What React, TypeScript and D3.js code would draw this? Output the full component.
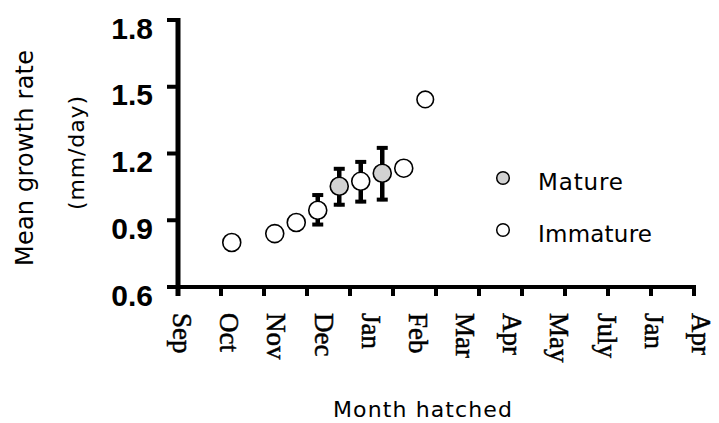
import React from "react";
import * as d3 from "d3";

const monthLabels = ["Sep", "Oct", "Nov", "Dec", "Jan", "Feb", "Mar", "Apr", "May", "July", "Jan", "Apr"];
const tickSlots = [0, 1, 2, 3, 4, 5, 6, 7, 8, 9, 10, 11, 12];
const yTicks = [0.6, 0.9, 1.2, 1.5, 1.8];

const hatchMonth = [1.25, 2.25, 2.75, 3.25, 3.75, 4.25, 4.75, 5.25, 5.75];
const growthRate = [0.8, 0.84, 0.89, 0.945, 1.053, 1.075, 1.111, 1.134, 1.443];
const errUpper: (number | null)[] = [null, null, null, 1.02, 1.138, 1.169, 1.232, null, null];
const errLower: (number | null)[] = [null, null, null, 0.874, 0.963, 0.977, 0.986, null, null];
const maturity = ["Immature", "Immature", "Immature", "Immature", "Mature", "Immature", "Mature", "Immature", "Immature"];

const legendItems = ["Mature", "Immature"];

const W = 719;
const H = 423;
const MATURE_FILL = "#d2d2d2";

export default function App() {
  const x = d3.scaleLinear().domain([0, 12]).range([178, 694]);
  const y = d3.scaleLinear().domain([0.6, 1.8]).range([287, 20]);
  const labelX = d3
    .scalePoint<number>()
    .domain(monthLabels.map((_, i) => i))
    .range([182, 701]);
  const fmt = d3.format(".1f");
  const legendY = d3.scalePoint<string>().domain(legendItems).range([178, 230]);

  const sans = "'DejaVu Sans', sans-serif";

  return (
    <svg
      width={W}
      height={H}
      viewBox={`0 0 ${W} ${H}`}
      style={{ position: "absolute", left: 0, top: 0, background: "#fff" }}
    >
      <rect x={0} y={0} width={W} height={H} fill="#fff" />
      {/* Y axis */}
      <line x1={x(0)} x2={x(0)} y1={y(1.8) - 2} y2={296} stroke="#000" strokeWidth={5} />
      {yTicks.map((t) => (
        <g key={t}>
          <line x1={167} x2={x(0)} y1={y(t)} y2={y(t)} stroke="#000" strokeWidth={4} />
          <text
            x={153}
            y={y(t) + 18.5}
            textAnchor="end"
            fontFamily="'Liberation Sans', Arial, sans-serif"
            fontWeight="bold"
            fontSize={30}
            fill="#000"
          >
            {fmt(t)}
          </text>
        </g>
      ))}
      {/* X axis */}
      <line x1={x(0) - 3} x2={x(12) + 2} y1={y(0.6)} y2={y(0.6)} stroke="#000" strokeWidth={4} />
      {tickSlots.map((s) => (
        <line key={s} x1={x(s)} x2={x(s)} y1={y(0.6)} y2={296} stroke="#000" strokeWidth={4} />
      ))}
      {monthLabels.map((m, i) => (
        <text
          key={i}
          transform={`translate(${(labelX(i) as number) - 9},313) rotate(90)`}
          fontFamily="'Liberation Serif', 'Times New Roman', serif"
          fontSize={27}
          fill="#000"
          stroke="#000"
          strokeWidth={0.5}
        >
          {m}
        </text>
      ))}
      {/* Error bars */}
      {hatchMonth.map((m, i) => {
        const u = errUpper[i];
        const l = errLower[i];
        if (u == null || l == null) return null;
        const cx = x(m);
        return (
          <g key={"e" + i}>
            <line x1={cx} x2={cx} y1={y(u)} y2={y(l)} stroke="#000" strokeWidth={4.5} />
            <line x1={cx - 5.5} x2={cx + 5.5} y1={y(u) + 1.5} y2={y(u) + 1.5} stroke="#000" strokeWidth={4} />
            <line x1={cx - 5.5} x2={cx + 5.5} y1={y(l) - 1.5} y2={y(l) - 1.5} stroke="#000" strokeWidth={4} />
          </g>
        );
      })}
      {/* Points */}
      {hatchMonth.map((m, i) => (
        <circle
          key={"p" + i}
          cx={x(m)}
          cy={y(growthRate[i])}
          r={i === hatchMonth.length - 1 ? 8.3 : 9}
          fill={maturity[i] === "Mature" ? MATURE_FILL : "#fff"}
          stroke="#000"
          strokeWidth={1.6}
        />
      ))}
      {/* Legend */}
      {legendItems.map((item) => (
        <g key={item}>
          <circle
            cx={503}
            cy={legendY(item) as number}
            r={6.3}
            fill={item === "Mature" ? MATURE_FILL : "#fff"}
            stroke="#000"
            strokeWidth={1.5}
          />
          <text
            x={538}
            y={(legendY(item) as number) + 11.5}
            fontFamily={sans}
            fontSize={23}
            fill="#000"
            textLength={item === "Mature" ? 85 : 114}
            lengthAdjust="spacing"
          >
            {item}
          </text>
        </g>
      ))}
      {/* Axis titles */}
      <text
        transform="translate(33,158) rotate(-90)"
        textAnchor="middle"
        fontFamily={sans}
        fontSize={24}
        fill="#000"
        textLength={216}
        lengthAdjust="spacing"
      >
        Mean growth rate
      </text>
      <text
        transform="translate(84,153) rotate(-90)"
        textAnchor="middle"
        fontFamily={sans}
        fontSize={22}
        fill="#000"
        textLength={114}
        lengthAdjust="spacing"
      >
        (mm/day)
      </text>
      <text
        x={333}
        y={417}
        fontFamily={sans}
        fontSize={22}
        fill="#000"
        textLength={179}
        lengthAdjust="spacing"
      >
        Month hatched
      </text>
    </svg>
  );
}
